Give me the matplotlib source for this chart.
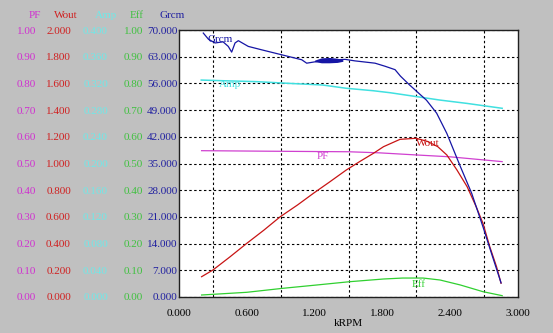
import matplotlib
matplotlib.use("Agg")
import matplotlib.pyplot as plt

# ---- data (x in kRPM) ----
grcm_x = [0.215, 0.26, 0.319, 0.39, 0.436, 0.466, 0.496, 0.525, 0.613, 0.732, 0.909,
          1.086, 1.130, 1.233, 1.30, 1.40, 1.47, 1.558, 1.735, 1.823, 1.912, 1.96,
          2.04, 2.19, 2.28, 2.37, 2.49, 2.59, 2.69, 2.77, 2.85]
grcm_y = [69.2, 67.6, 66.6, 66.9, 65.7, 64.2, 66.6, 67.2, 65.7, 64.8, 63.5,
          62.2, 61.3, 61.8, 62.1, 62.2, 62.3, 61.9, 61.3, 60.5, 59.6, 57.9,
          55.6, 51.6, 48.2, 42.9, 34.2, 27.2, 18.4, 11.0, 3.7]
# torque scatter band around 1.2-1.45 kRPM
band_x = [1.20, 1.26, 1.33, 1.40, 1.45]
band_lo = [61.7, 61.4, 61.4, 61.5, 61.8]
band_hi = [62.1, 62.7, 62.8, 62.6, 62.2]

wout_x = [0.20, 0.30, 0.45, 0.60, 0.75, 0.894, 1.05, 1.19, 1.33, 1.48, 1.60,
          1.72, 1.81, 1.956, 2.10, 2.20, 2.29, 2.37, 2.46, 2.55, 2.63, 2.69,
          2.75, 2.81, 2.85]
wout_y = [0.152, 0.202, 0.300, 0.402, 0.500, 0.600, 0.690, 0.777, 0.860, 0.951, 1.015,
          1.076, 1.126, 1.181, 1.189, 1.165, 1.126, 1.064, 0.951, 0.826, 0.676, 0.552,
          0.377, 0.227, 0.103]

amp_x = [0.197, 0.39, 0.69, 0.98, 1.27, 1.48, 1.72, 1.87, 2.31, 2.55, 2.86]
amp_y = [0.325, 0.324, 0.3226, 0.320, 0.3176, 0.3127, 0.309, 0.306, 0.295, 0.290, 0.2827]

pf_x = [0.20, 0.80, 1.50, 1.77, 2.10, 2.40, 2.86]
pf_y = [0.548, 0.546, 0.544, 0.540, 0.532, 0.525, 0.507]

eff_x = [0.20, 0.60, 0.92, 1.22, 1.51, 1.81, 1.98, 2.16, 2.31, 2.49, 2.69, 2.86]
eff_y = [0.0075, 0.0176, 0.0326, 0.045, 0.0573, 0.0674, 0.071, 0.071, 0.0637, 0.045, 0.0199, 0.005]

x_ticks = [0.0, 0.6, 1.2, 1.8, 2.4, 3.0]
x_grid = [0.3 * i for i in range(11)]
grcm_ticks = [7.0 * i for i in range(11)]
wout_ticks = [0.2 * i for i in range(11)]
amp_ticks = [0.04 * i for i in range(11)]
pf_ticks = [0.1 * i for i in range(11)]
eff_ticks = [0.1 * i for i in range(11)]

# ---- colours ----
BG = "#c0c0c0"
C_GRCM = "#1515a5"
C_WOUT = "#c81414"
C_AMP = "#40e0e0"
C_PF = "#d040d0"
C_EFF = "#30d030"
T_GRCM = "#2020a0"
T_WOUT = "#d02020"
T_AMP = "#70e8e8"
T_PF = "#d030d0"
T_EFF = "#40c040"

FONT = "Liberation Serif"
FS = 8

W, H = 553, 333
fig = plt.figure(figsize=(W / 100, H / 100), dpi=100, facecolor=BG)
L, R, T, B = 179, 518, 30, 297
ax = fig.add_axes([L / W, 1 - B / H, (R - L) / W, (B - T) / H])
ax.set_facecolor("white")
ax.set_xlim(0, 3.0)
ax.set_ylim(0, 70)

for s in ax.spines.values():
    s.set_color("#202020")
    s.set_linewidth(1.0)

# grid
ax.set_xticks(x_grid, minor=True)
ax.set_yticks(grcm_ticks)
ax.grid(True, which="both", color="black", linestyle=(0, (2.2, 2.2)), linewidth=0.8)
ax.tick_params(axis="x", which="minor", length=0)
ax.set_xticks(x_ticks)
ax.set_xticklabels(["%.3f" % v for v in x_ticks], fontfamily=FONT, fontsize=FS)
ax.tick_params(axis="x", which="major", length=0, pad=9, colors="black")
ax.xaxis.grid(False, which="major")
ax.set_xlabel("kRPM", fontfamily=FONT, fontsize=FS, labelpad=0)

ax.set_yticklabels(["%.3f" % v for v in grcm_ticks], fontfamily=FONT, fontsize=FS, color=T_GRCM)
ax.tick_params(axis="y", length=0, pad=1)


def side_axis(limits, ticks, fmt, color, offset_px):
    a = ax.twinx()
    a.set_ylim(*limits)
    a.yaxis.set_ticks_position("left")
    a.spines["left"].set_position(("outward", offset_px * 0.72))
    for s in a.spines.values():
        s.set_visible(False)
    a.set_yticks(ticks)
    a.set_yticklabels([fmt % v for v in ticks], fontfamily=FONT, fontsize=FS, color=color)
    a.tick_params(axis="y", length=0, pad=0)
    a.patch.set_visible(False)
    return a


ax_pf = side_axis((0, 1.0), pf_ticks, "%.2f", T_PF, 143)
ax_wout = side_axis((0, 2.0), wout_ticks, "%.3f", T_WOUT, 108)
ax_amp = side_axis((0, 0.4), amp_ticks, "%.3f", T_AMP, 71)
ax_eff = side_axis((0, 1.0), eff_ticks, "%.2f", T_EFF, 36)

lw = 0.9
ax_eff.plot(eff_x, eff_y, color=C_EFF, lw=lw)
ax_pf.plot(pf_x, pf_y, color=C_PF, lw=lw)
ax_amp.plot(amp_x, amp_y, color=C_AMP, lw=1.1)
ax_wout.plot(wout_x, wout_y, color=C_WOUT, lw=lw)
ax_top = ax_wout.twinx()
ax_top.set_ylim(0, 70)
ax_top.axis("off")
ax_top.plot(grcm_x, grcm_y, color=C_GRCM, lw=lw)
ax_top.fill_between(band_x, band_lo, band_hi, color=C_GRCM, lw=0)

# series names on the curves
lab = dict(fontfamily=FONT, fontsize=FS, ha="left", va="center")
ax_top.text(0.25, 67.6, "Grcm", color=C_GRCM, **lab)
ax_amp.text(0.35, 0.318, "Amp", color=C_AMP, **lab)
ax_pf.text(1.22, 0.527, "PF", color=C_PF, **lab)
ax_wout.text(2.10, 1.15, "Wout", color=C_WOUT, **lab)
ax_eff.text(2.06, 0.045, "Eff", color=C_EFF, **lab)

# column headers
hdr = dict(fontfamily=FONT, fontsize=FS, ha="center", va="center")
for xc, name, col in [(35, "PF", T_PF), (66, "Wout", T_WOUT), (106, "Amp", T_AMP),
                      (137, "Eff", T_EFF), (172, "Grcm", T_GRCM)]:
    fig.text(xc / W, 1 - 16 / H, name, color=col, **hdr)

fig.savefig("out.png", dpi=100, facecolor=BG)
